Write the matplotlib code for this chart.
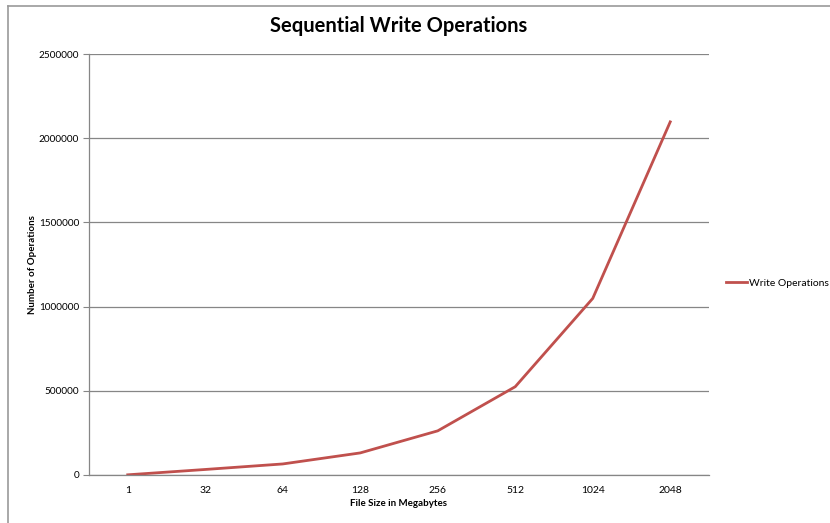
import matplotlib.pyplot as plt
from matplotlib.lines import Line2D

plt.rcParams['font.family'] = ['Lato', 'DejaVu Sans']

file_sizes = ['1', '32', '64', '128', '256', '512', '1024', '2048']
write_ops = [1024, 32768, 65536, 131072, 262144, 524288, 1048576, 2097152]
y_ticks = [0, 500000, 1000000, 1500000, 2000000, 2500000]

fig = plt.figure(figsize=(8.3, 5.23), dpi=100)
ax = fig.add_axes([0.1072, 0.0918, 0.7470, 0.8049])

x = range(len(file_sizes))
ax.plot(x, write_ops, color='#C0504D', linewidth=2, label='Write Operations')

ax.set_xlim(-0.5, len(file_sizes) - 0.5)
ax.set_ylim(0, 2500000)
ax.set_xticks(list(x))
ax.set_xticklabels(file_sizes)
ax.set_yticks(y_ticks)
ax.set_yticklabels([str(v) for v in y_ticks])
ax.tick_params(axis='x', length=0, labelsize=7.5, pad=8)
ax.tick_params(axis='y', length=4, color='#868686', labelsize=7.2, pad=3)
ax.grid(axis='y', color='#868686', linewidth=0.9)
ax.set_axisbelow(True)

for side in ['top', 'right']:
    ax.spines[side].set_visible(False)
for side in ['left', 'bottom']:
    ax.spines[side].set_color('#868686')
    ax.spines[side].set_linewidth(0.9)

ax.set_title('Sequential Write Operations', fontsize=14.5, fontweight='bold', pad=16)
ax.set_xlabel('File Size in Megabytes', fontsize=7, fontweight='bold', labelpad=3)
ax.set_ylabel('Number of Operations', fontsize=7, fontweight='bold')
ax.yaxis.set_label_coords(-0.084, 0.5)

ax.legend(loc='center left', bbox_to_anchor=(1.027, 0.456), frameon=False,
          fontsize=7.5, handlelength=2.0, handletextpad=0.2,
          borderpad=0, borderaxespad=0)

# chart frame, only its left and top edges fall inside the canvas
fig.add_artist(Line2D([8 / 830, 8 / 830], [0, 1 - 6 / 523], color='#9a9a9a', linewidth=1.2))
fig.add_artist(Line2D([8 / 830, 1], [1 - 6 / 523, 1 - 6 / 523], color='#9a9a9a', linewidth=1.2))

fig.savefig('out.png', dpi=100)
